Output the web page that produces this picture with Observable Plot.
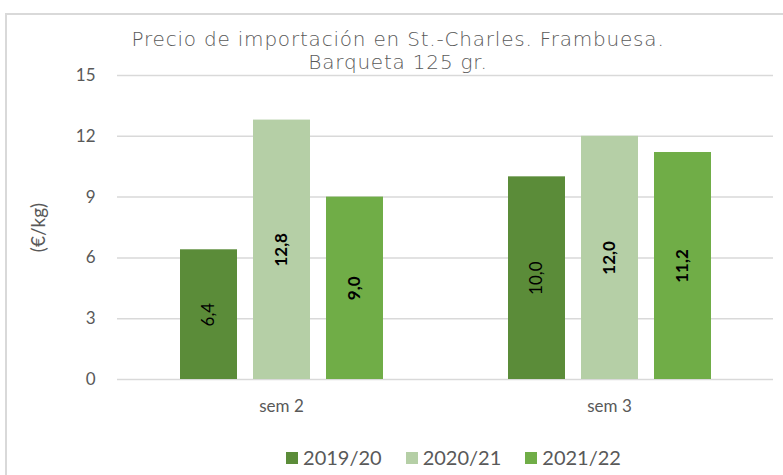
<!DOCTYPE html>
<html><head><meta charset="utf-8">
<script src="https://cdn.jsdelivr.net/npm/d3@7"></script>
<script src="https://cdn.jsdelivr.net/npm/@observablehq/plot@0.6"></script>
<style>
body{margin:0;background:#fff;}
#wrap{position:relative;width:783px;height:475px;overflow:hidden;background:#fff;}
#frame{position:absolute;left:5px;top:13px;width:800px;height:500px;border:2px solid #d9d9d9;box-sizing:border-box;}
#title{position:absolute;left:0;width:796px;top:28px;text-align:center;font-family:"DejaVu Sans",sans-serif;font-weight:200;font-size:20px;line-height:23px;color:#595959;letter-spacing:0.8px;}
#legend{position:absolute;top:445px;left:62px;width:783px;text-align:center;font-family:Lato,sans-serif;font-size:20px;color:#595959;}
#legend span.item{display:inline-block;margin:0 12px;}
#legend span.sw{display:inline-block;width:12px;height:12px;margin-right:5px;vertical-align:1px;}
#chart{position:absolute;left:0;top:0;}
</style></head>
<body><div id="wrap"><div id="frame"></div><div id="chart"></div><div id="title">Precio de importación en St.-Charles. Frambuesa.<br>Barqueta 125 gr.</div><div id="legend"></div></div>
<script>
const weeks = ["sem 2", "sem 3"];
const seasons = ["2019/20", "2020/21", "2021/22"];
const s1920 = [6.4, 10.0];
const s2021 = [12.8, 12.0];
const s2122 = [9.0, 11.2];
const yTicks = [0, 3, 6, 9, 12, 15];
const colors = ["#5b8c39", "#b5cfa6", "#70ad47"];
const boldLabel = [false, true, true];

const series = [s1920, s2021, s2122];
const data = [];
weeks.forEach((w, i) => seasons.forEach((s, j) => data.push({week: w, season: s, v: series[j][i], bold: boldLabel[j]})));
const fmt = v => v.toFixed(1).replace(".", ",");

const plot = Plot.plot({
  width: 783, height: 475,
  marginLeft: 117, marginRight: 10, marginTop: 75, marginBottom: 96,
  style: {fontFamily: "Lato, sans-serif", fontSize: "17px", color: "#595959", background: "transparent"},
  fx: {domain: weeks, padding: 0, label: null, tickSize: 0, tickPadding: 20, axis: "bottom"},
  x: {domain: seasons, axis: null, paddingInner: 0.22, paddingOuter: 0.855},
  y: {domain: [0, 15], ticks: yTicks, tickSize: 0, tickPadding: 22, label: "(€/kg)", labelAnchor: "center", labelOffset: 86},
  color: {domain: seasons, range: colors},
  marks: [
    Plot.ruleY(yTicks, {stroke: "#d9d9d9", strokeWidth: 1.5}),
    Plot.barY(data, {fx: "week", x: "season", y: "v", fill: "season"}),
    Plot.text(data.filter(d => !d.bold), {fx: "week", x: "season", y: d => d.v / 2, text: d => fmt(d.v), rotate: -90, fill: "#000", fontSize: 17}),
    Plot.text(data.filter(d => d.bold), {fx: "week", x: "season", y: d => d.v / 2, text: d => fmt(d.v), rotate: -90, fill: "#000", fontSize: 17, fontWeight: "bold"})
  ]
});
plot.querySelectorAll("text").forEach(t => {
  if (t.textContent.includes("€/kg")) {
    t.textContent = "(€/kg)";
    t.setAttribute("font-size", "19px");
  }
  if (/^sem /.test(t.textContent)) t.setAttribute("font-size", "17px");
});
plot.querySelectorAll("[aria-label='fx-axis tick label'], [aria-label='fx-axis']").forEach(g => g.setAttribute("font-size", "17px"));
document.getElementById("chart").appendChild(plot);

const leg = document.getElementById("legend");
seasons.forEach((s, i) => {
  const it = document.createElement("span"); it.className = "item";
  const sw = document.createElement("span"); sw.className = "sw"; sw.style.background = colors[i];
  it.appendChild(sw); it.appendChild(document.createTextNode(s));
  leg.appendChild(it);
});
</script></body></html>
